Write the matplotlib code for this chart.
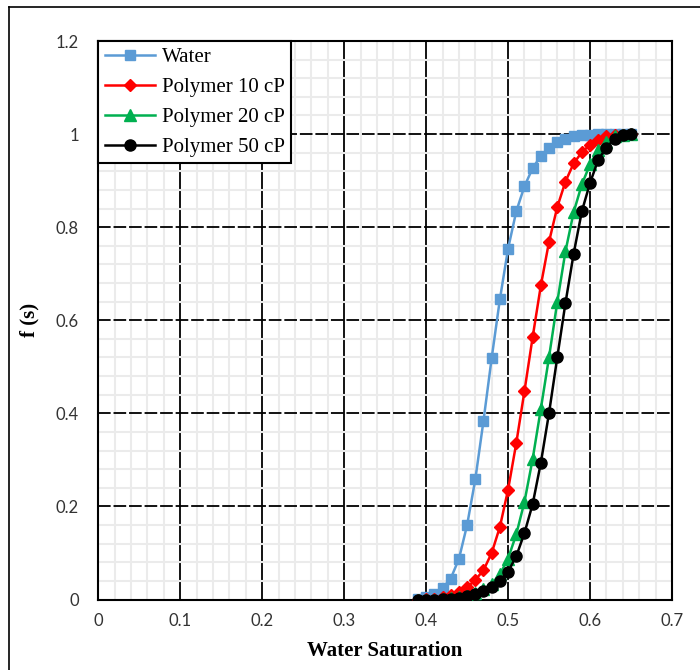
import matplotlib
matplotlib.use("Agg")
import matplotlib.pyplot as plt
from matplotlib.lines import Line2D
from matplotlib.ticker import MultipleLocator
import numpy as np

# Data
sw = [0.39, 0.40, 0.41, 0.42, 0.43, 0.44, 0.45, 0.46, 0.47, 0.48, 0.49,
      0.50, 0.51, 0.52, 0.53, 0.54, 0.55, 0.56, 0.57, 0.58, 0.59,
      0.60, 0.61, 0.62, 0.63, 0.64, 0.65]
f_water = [0.002, 0.006, 0.012, 0.024, 0.045, 0.087, 0.160, 0.258, 0.384, 0.519, 0.645,
           0.754, 0.834, 0.888, 0.927, 0.953, 0.971, 0.982, 0.990, 0.995, 0.998,
           0.999, 1.0, 1.0, 1.0, 1.0, 1.0]
f_poly10 = [0.0, 0.001, 0.002, 0.005, 0.0096, 0.017, 0.026, 0.042, 0.063, 0.100, 0.156,
            0.236, 0.336, 0.448, 0.564, 0.675, 0.769, 0.843, 0.898, 0.937, 0.961,
            0.977, 0.988, 0.995, 0.998, 0.999, 1.0]
f_poly20 = [0.0, 0.0, 0.0, 0.001, 0.003, 0.005, 0.008, 0.014, 0.023, 0.033, 0.054,
            0.088, 0.140, 0.210, 0.302, 0.410, 0.521, 0.639, 0.748, 0.832, 0.892,
            0.935, 0.966, 0.984, 0.995, 0.999, 1.0]
f_poly50 = [0.0, 0.0, 0.0, 0.001, 0.002, 0.004, 0.007, 0.012, 0.018, 0.027, 0.040,
            0.060, 0.093, 0.143, 0.205, 0.294, 0.401, 0.520, 0.637, 0.743, 0.834,
            0.895, 0.945, 0.971, 0.990, 0.997, 1.0]
labels = ["Water", "Polymer 10 cP", "Polymer 20 cP", "Polymer 50 cP"]
colors = ["#5B9BD5", "#FF0000", "#00B050", "#000000"]
markers = ["s", "D", "^", "o"]
msizes = [7.5, 6, 8, 8]
xticks = [0, 0.1, 0.2, 0.3, 0.4, 0.5, 0.6, 0.7]
yticks = [0, 0.2, 0.4, 0.6, 0.8, 1.0, 1.2]
xtick_labels = ["0", "0.1", "0.2", "0.3", "0.4", "0.5", "0.6", "0.7"]
ytick_labels = ["0", "0.2", "0.4", "0.6", "0.8", "1", "1.2"]

fig = plt.figure(figsize=(7, 6.7), dpi=100)
ax = fig.add_axes([0.1404, 0.1052, 0.8196, 0.8336])

ax.set_xlim(0, 0.7)
ax.set_ylim(0, 1.2)
ax.xaxis.set_minor_locator(MultipleLocator(0.02))
ax.yaxis.set_minor_locator(MultipleLocator(0.04))
ax.set_xticks(xticks)
ax.set_xticklabels(xtick_labels)
ax.set_yticks(yticks)
ax.set_yticklabels(ytick_labels)
ax.grid(which="minor", color="#ebebeb", linewidth=1.5, zorder=0)
ax.grid(which="major", axis="x", color="black", linewidth=1.3, zorder=1)
ax.grid(which="major", axis="y", color="black", linewidth=1.3, linestyle=(0, (7, 1.6)), zorder=1)
ax.set_axisbelow(True)
ax.tick_params(which="both", length=0)
ax.tick_params(axis="y", pad=14)
ax.tick_params(axis="x", pad=10)
for lab in ax.get_xticklabels() + ax.get_yticklabels():
    lab.set_family("Lato")
    lab.set_fontsize(12)
    lab.set_color("#333333")
for sp in ax.spines.values():
    sp.set_linewidth(1.5)
    sp.set_color("black")

series = [f_water, f_poly10, f_poly20, f_poly50]
for ys, lab, c, m, ms in zip(series, labels, colors, markers, msizes):
    ax.plot(sw, ys, color=c, marker=m, markersize=ms, linewidth=1.8,
            label=lab, zorder=3)

ax.set_xlabel("Water Saturation", family="Liberation Serif", fontweight="bold",
              fontsize=15, labelpad=8)
ax.set_ylabel("f (s)", family="Liberation Serif", fontweight="bold",
              fontsize=15, labelpad=12)

leg = ax.legend(loc="upper left", bbox_to_anchor=(0, 1), borderaxespad=0,
                prop={"family": "Liberation Serif", "size": 15},
                frameon=True, fancybox=False, framealpha=1,
                edgecolor="black", handlelength=2.4, handletextpad=0.35,
                labelspacing=0.5, borderpad=0.3)
leg.get_frame().set_linewidth(1.5)
leg.set_zorder(5)

# outer frame (top and left visible)
fig.add_artist(Line2D([0.013, 1.0], [0.989, 0.989], color="black", linewidth=1.2,
                      transform=fig.transFigure))
fig.add_artist(Line2D([0.013, 0.013], [0.0, 0.989], color="black", linewidth=1.2,
                      transform=fig.transFigure))

fig.savefig("out.png", dpi=100)
